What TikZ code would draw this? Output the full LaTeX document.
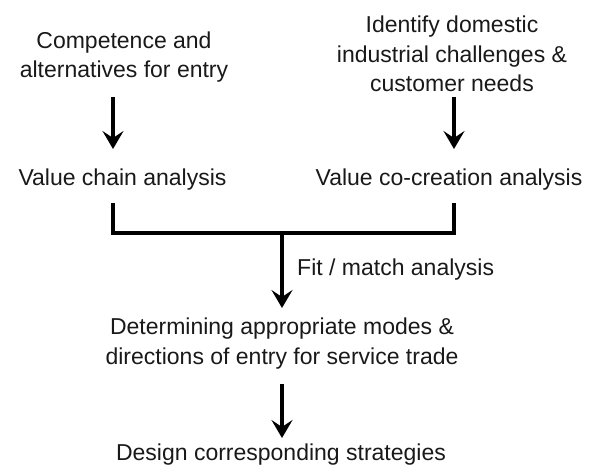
\documentclass[tikz,border=0pt]{standalone}
\usepackage{fontspec}
\setmainfont{Liberation Sans}
\usetikzlibrary{arrows.meta}
\begin{document}
\begin{tikzpicture}[x=1pt,y=-1pt,
  lbl/.style={font=\fontsize{23}{29.5}\selectfont, inner sep=0pt, align=center, text=black!90},
  arr/.style={line width=3.2pt, -{Stealth[length=18pt,width=21pt,inset=7pt]}},
  brk/.style={line width=3.2pt, miter limit=10}]
\useasboundingbox (0,0) rectangle (589,468);
\node[lbl, anchor=base] (comp) at (124,78) {Competence and\\alternatives for entry};
\node[lbl, anchor=base] (iden) at (452,92) {Identify domestic\\industrial challenges \&\\customer needs};
\node[lbl, anchor=base] (vca) at (122.5,185) {Value chain analysis};
\node[lbl, anchor=base] (vcc) at (449,185) {Value co-creation analysis};
\node[lbl, anchor=base west] (fit) at (297,275) {Fit / match analysis};
\node[lbl, anchor=base] (det) at (282,364) {Determining appropriate modes \&\\directions of entry for service trade};
\node[lbl, anchor=base] (des) at (281,460) {Design corresponding strategies};
% coordinates
\coordinate (l1) at (113,97); \coordinate (l2) at (113,149);
\coordinate (r1) at (454,97); \coordinate (r2) at (454,149);
\coordinate (bl) at (113,203); \coordinate (br) at (454,203);
\coordinate (hl) at (113,233); \coordinate (hr) at (454,233);
\coordinate (m1) at (282,233); \coordinate (m2) at (282,308);
\coordinate (d1) at (282,384); \coordinate (d2) at (282,438);
\draw[arr] (l1) -- (l2);
\draw[arr] (r1) -- (r2);
\draw[brk] (bl) -- (hl) -- (hr) -- (br);
\draw[arr] (m1) -- (m2);
\draw[arr] (d1) -- (d2);
\end{tikzpicture}
\end{document}
